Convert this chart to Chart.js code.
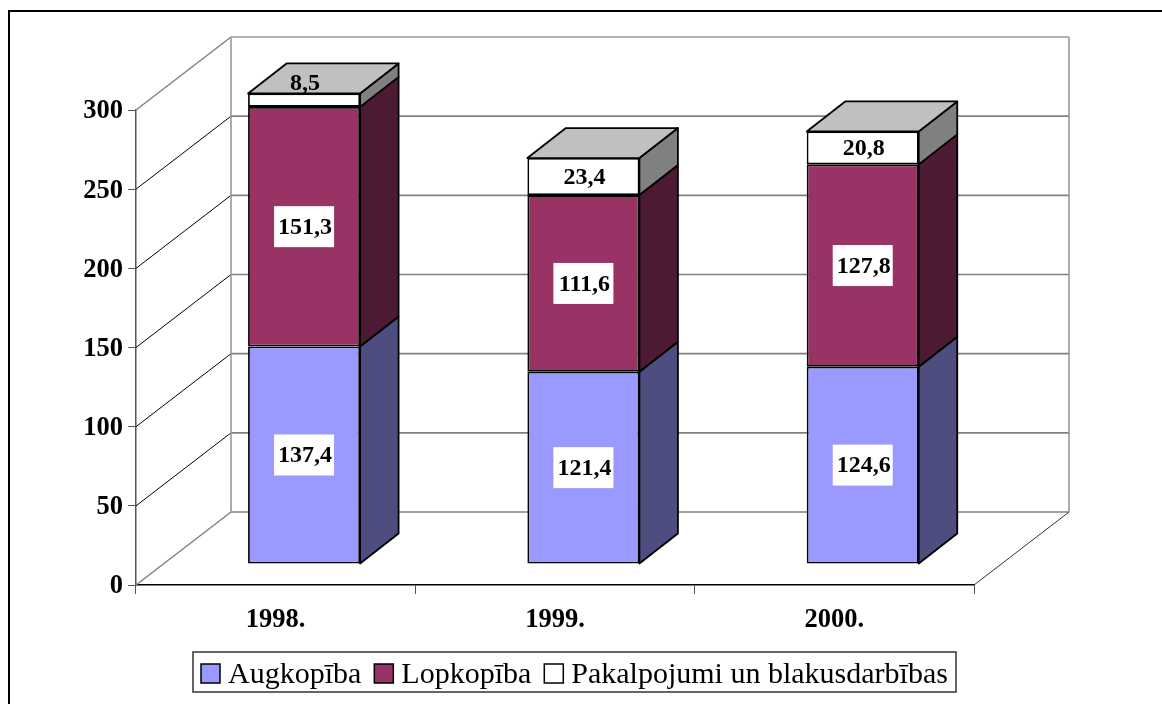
<!DOCTYPE html>
<html>
<head>
<meta charset="utf-8">
<title>Augkopība, Lopkopība, Pakalpojumi</title>
<script src="https://cdn.jsdelivr.net/npm/chart.js@4"></script>
<style>
  html, body { margin: 0; padding: 0; background: #fff; overflow: hidden; }
  canvas { display: block; }
</style>
</head>
<body>
<canvas id="chart" width="1162" height="704"></canvas>
<script>
// DATA
const years = ["1998.", "1999.", "2000."];
const augkopiba = [137.4, 121.4, 124.6];
const lopkopiba = [151.3, 111.6, 127.8];
const pakalpojumi = [8.5, 23.4, 20.8];
const seriesNames = ["Augkopība", "Lopkopība", "Pakalpojumi un blakusdarbības"];
const seriesColors = ["#9999ff", "#993366", "#ffffff"];
const sideColors = ["#4d4d80", "#4d1a33", "#808080"];
const topColor = "#c0c0c0";

const SERIF = '"Liberation Serif", "Times New Roman", serif';

// 3D OFFSETS
const wallDx = 95, wallDy = -73;
const barShiftX = 28.4, barShiftY = -21;
const barDx = 38.5, barDy = -30;

const line = (ctx, x1, y1, x2, y2, color, width) => {
    ctx.strokeStyle = color;
    ctx.lineWidth = width;
    ctx.beginPath();
    ctx.moveTo(x1, y1);
    ctx.lineTo(x2, y2);
    ctx.stroke();
};

const poly = (ctx, pts, fill) => {
    ctx.fillStyle = fill;
    ctx.strokeStyle = "#000";
    ctx.lineWidth = 1.8;
    ctx.lineJoin = "round";
    ctx.beginPath();
    pts.forEach((p, i) => i ? ctx.lineTo(p[0], p[1]) : ctx.moveTo(p[0], p[1]));
    ctx.closePath();
    ctx.fill();
    ctx.stroke();
};

// WALLS AND FLOOR BEHIND THE BARS
const wallsPlugin = {
    id: "walls",
    beforeDatasetsDraw(chart) {
        const { ctx, chartArea: a, scales: { y } } = chart;
        ctx.save();

        y.ticks.forEach(t => {
            const py = y.getPixelForValue(t.value);
            const edge = t.value === 0 || t.value === 300;
            line(ctx, a.left, py, a.left + wallDx, py + wallDy, edge ? "#808080" : "#000", edge ? 1.5 : 1);
            line(ctx, a.left + wallDx, py + wallDy, a.right + wallDx, py + wallDy, t.value === 300 ? "#999" : "#808080", 1.6);
        });

        line(ctx, a.left + wallDx, a.top + wallDy, a.left + wallDx, a.bottom + wallDy, "#999", 1.6);
        line(ctx, a.right + wallDx, a.top + wallDy, a.right + wallDx, a.bottom + wallDy, "#999", 1.6);
        line(ctx, a.right, a.bottom, a.right + wallDx, a.bottom + wallDy, "#333", 1);

        ctx.restore();

        // bars stand further back on the floor
        ctx.save();
        ctx.translate(barShiftX, barShiftY);
    },
    afterDatasetsDraw(chart) {
        const { ctx } = chart;

        // SIDES AND TOP
        chart.data.datasets.forEach((ds, i) => {
            chart.getDatasetMeta(i).data.forEach(bar => {
                const r = bar.x + bar.width / 2;
                poly(ctx, [[r, bar.y], [r + barDx, bar.y + barDy], [r + barDx, bar.base + barDy], [r, bar.base]], sideColors[i]);
            });
        });
        const lastIndex = chart.data.datasets.length - 1;
        chart.getDatasetMeta(lastIndex).data.forEach(bar => {
            const l = bar.x - bar.width / 2, r = bar.x + bar.width / 2;
            poly(ctx, [[l, bar.y], [l + barDx, bar.y + barDy], [r + barDx, bar.y + barDy], [r, bar.y]], topColor);
        });

        // VALUE LABELS
        ctx.font = "bold 24px " + SERIF;
        ctx.textAlign = "center";
        ctx.textBaseline = "middle";
        chart.data.datasets.forEach((ds, i) => {
            chart.getDatasetMeta(i).data.forEach((bar, j) => {
                const value = ds.data[j];
                let cy = (bar.y + bar.base) / 2;
                if (i < lastIndex) {
                    ctx.fillStyle = "#fff";
                    ctx.fillRect(bar.x - 30, cy - 20.5, 60, 41);
                }
                // too thin for its label: sits on the top face
                if (value < 10) cy -= 17.5;
                ctx.fillStyle = "#000";
                ctx.fillText(value.toFixed(1).replace(".", ","), bar.x + 1, cy + 1);
            });
        });

        ctx.restore();
    }
};

// LEGEND BOX AND PAGE FRAME
const legendPlugin = {
    id: "boxLegend",
    afterDraw(chart) {
        const { ctx } = chart;
        ctx.save();

        ctx.fillStyle = "#000";
        ctx.fillRect(8, 10, 1154, 2);
        ctx.fillRect(8, 10, 2, 694);

        ctx.strokeStyle = "#333";
        ctx.lineWidth = 1.5;
        ctx.strokeRect(193, 652, 763, 40);

        ctx.font = "30px " + SERIF;
        ctx.textAlign = "left";
        ctx.textBaseline = "alphabetic";
        let x = 201;
        seriesNames.forEach((name, i) => {
            ctx.fillStyle = seriesColors[i];
            ctx.fillRect(x, 664, 19, 19);
            ctx.strokeStyle = "#000";
            ctx.lineWidth = 1.5;
            ctx.strokeRect(x, 664, 19, 19);
            ctx.fillStyle = "#000";
            ctx.fillText(name, x + 27, 683);
            x += 27 + ctx.measureText(name).width + 13;
        });

        ctx.restore();
    }
};

const makeDataset = (i, data) => ({
    label: seriesNames[i],
    data,
    backgroundColor: seriesColors[i],
    borderColor: "#000",
    borderWidth: 1.8,
    borderSkipped: false,
    clip: false
});

new Chart(document.getElementById("chart"), {
    type: "bar",
    data: {
        labels: years,
        datasets: [
            makeDataset(0, augkopiba),
            makeDataset(1, lopkopiba),
            makeDataset(2, pakalpojumi)
        ]
    },
    options: {
        responsive: false,
        animation: false,
        categoryPercentage: 1,
        barPercentage: 0.401,
        layout: { padding: { left: 0, top: 110, right: 188, bottom: 0 } },
        plugins: {
            legend: { display: false },
            title: { display: false },
            tooltip: { enabled: false }
        },
        scales: {
            x: {
                stacked: true,
                afterFit: s => { s.height = 119; },
                border: { color: "#000", width: 1.5 },
                grid: { drawOnChartArea: false, color: "#555", tickLength: 9 },
                ticks: {
                    color: "#000",
                    padding: 10,
                    maxRotation: 0,
                    font: { family: SERIF, size: 26.5, weight: "bold" }
                }
            },
            y: {
                stacked: true,
                min: 0,
                max: 300,
                afterFit: s => { s.width = 136; },
                border: { color: "#555", width: 1.5 },
                grid: { drawOnChartArea: false, color: "#555", tickLength: 8 },
                ticks: {
                    color: "#000",
                    stepSize: 50,
                    padding: 5,
                    labelOffset: 1.5,
                    font: { family: SERIF, size: 26.5, weight: "bold" }
                }
            }
        }
    },
    plugins: [wallsPlugin, legendPlugin]
});
</script>
</body>
</html>
